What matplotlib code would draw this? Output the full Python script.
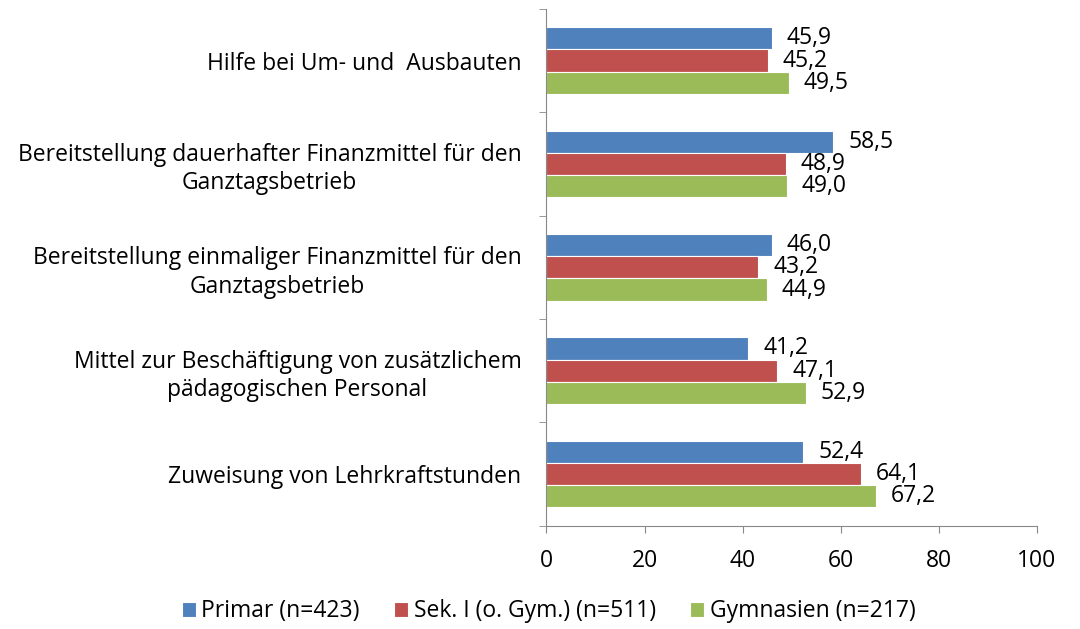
import numpy as np
import matplotlib
matplotlib.use("Agg")
import matplotlib.pyplot as plt

plt.rcParams['font.family'] = ['Open Sans', 'DejaVu Sans']

categories = [
    "Hilfe bei Um- und  Ausbauten",
    "Bereitstellung dauerhafter Finanzmittel für den\nGanztagsbetrieb",
    "Bereitstellung einmaliger Finanzmittel für den\nGanztagsbetrieb",
    "Mittel zur Beschäftigung von zusätzlichem\npädagogischen Personal",
    "Zuweisung von Lehrkraftstunden",
]
primar = [45.9, 58.5, 46.0, 41.2, 52.4]
sek1 = [45.2, 48.9, 43.2, 47.1, 64.1]
gymnasien = [49.5, 49.0, 44.9, 52.9, 67.2]
series_names = ["Primar (n=423)", "Sek. I (o. Gym.) (n=511)", "Gymnasien (n=217)"]
colors = ["#4F81BD", "#C0504D", "#9BBB59"]

FS = 16.5


def fmt(v):
    return f"{v:.1f}".replace(".", ",")


fig = plt.figure(figsize=(10.8, 6.29), dpi=100)
ax = fig.add_axes([0.506, 0.164, 0.454, 0.822])

y = np.arange(len(categories))
h = 0.215
for i, (vals, name, col) in enumerate(zip([primar, sek1, gymnasien], series_names, colors)):
    pos = y + (i - 1) * h
    ax.barh(pos, vals, height=h, color=col, edgecolor="white", linewidth=0.8, label=name)
    for p, v in zip(pos, vals):
        ax.text(v + 3, p, fmt(v), va="center", ha="left", fontsize=FS)

ax.set_xlim(0, 100)
ax.set_ylim(len(categories) - 0.5, -0.5)
ax.set_xticks(range(0, 101, 20))
ax.set_yticks(y)
ax.set_yticklabels(categories, multialignment="center", fontsize=FS, linespacing=1.25)
ax.set_yticks(np.arange(-0.5, len(categories), 1), minor=True)
ax.tick_params(axis="y", which="major", length=0, pad=18)
ax.tick_params(axis="y", which="minor", length=5, color="#888888", direction="out")
ax.tick_params(axis="x", length=5, color="#888888", labelsize=FS, pad=12)

for s in ["top", "right"]:
    ax.spines[s].set_visible(False)
for s in ["left", "bottom"]:
    ax.spines[s].set_color("#888888")

fig.legend(loc="center", bbox_to_anchor=(0.508, 0.028), ncol=3, frameon=False,
           fontsize=FS, handlelength=0.6, handleheight=0.6, handletextpad=0.25,
           columnspacing=1.5)

fig.savefig("out.png", dpi=100)
